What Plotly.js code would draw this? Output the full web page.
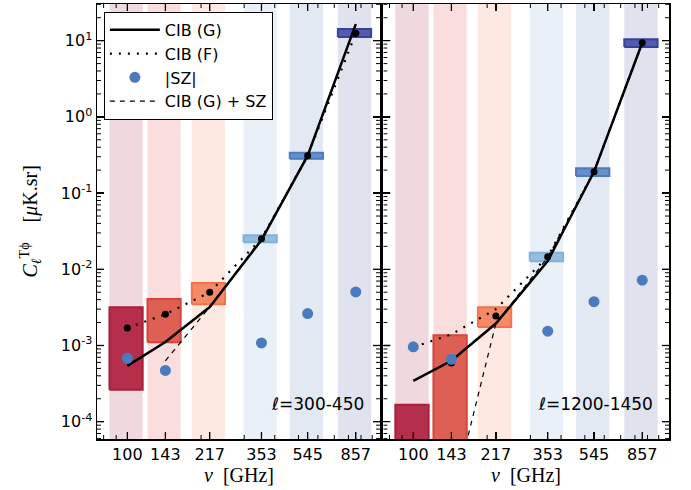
<!DOCTYPE html>
<html><head><meta charset="utf-8">
<script src="https://cdn.plot.ly/plotly-3.0.1.min.js"></script>
<style>html,body{margin:0;padding:0;background:#fff}</style>
</head><body><div id="chart" style="width:691px;height:490px"></div>
<script>
// ---- data ----
const freqs = [100, 143, 217, 353, 545, 857];
const freqLabels = ['100', '143', '217', '353', '545', '857'];
const panelLabels = ['300-450', '1200-1450'];

// panel 1: l = 300-450
const cibG_L   = [5.4e-4, 1.11e-3, 3.2e-3, 0.0242, 0.31, 16.5];
const cibF_L   = [1.7e-3, 2.57e-3, 5.0e-3, 0.0252, 0.31, 12.5];
const cibFpt_L = [1.7e-3, 2.57e-3, 5.0e-3, 0.0252, 0.31, 12.5];
const sz_L     = [6.8e-4, 4.7e-4, null, 1.08e-3, 2.62e-3, 5.05e-3];
const cibGsz_L = [null, 6.3e-4, 3.2e-3, 0.0253, 0.31, 16.5];
const boxLo_L  = [2.62e-4, 1.10e-3, 3.47e-3, 0.0226, 0.282, 11.2];
const boxHi_L  = [3.18e-3, 4.08e-3, 6.6e-3, 0.0279, 0.338, 14.2];

// panel 2: l = 1200-1450
const cibG_R   = [3.44e-4, 6.3e-4, 1.94e-3, 0.0128, 0.19, 9.4];
const cibF_R   = [9.5e-4, 1.40e-3, 3.0e-3, 0.0146, 0.19, 9.4];
const cibFpt_R = [9.5e-4, 5.9e-4, 2.44e-3, 0.0146, 0.19, 9.4];
const sz_R     = [9.6e-4, 6.6e-4, null, 1.54e-3, 3.76e-3, 7.2e-3];
const cibGsz_R = [null, 8.5e-6, 1.94e-3, 0.0143, 0.19, 9.4];
const boxLo_R  = [2e-5, 2e-5, 1.75e-3, 0.0127, 0.167, 8.26];
const boxHi_R  = [1.67e-4, 1.36e-3, 3.18e-3, 0.0165, 0.211, 10.4];

// ---- styles ----
const bandColors = ['#f0d9de', '#fadedd', '#fde9e2', '#e9f0f8', '#e3e9f3', '#e0e2ee'];
const boxFill = ['#b0203f', '#dc5548', '#f4845c', '#8bbbe0', '#5a8ac8', '#4650aa'];
const boxEdge = ['#a50f2d', '#d6372e', '#f06a42', '#79acd6', '#3f72b8', '#2a3593'];
const bandHalf = 0.155;
const szColor = '#4a7bbf';

const yTickVals = [1e-4, 1e-3, 1e-2, 1e-1, 1, 10];
const yTickText = ['10<sup>-4</sup>', '10<sup>-3</sup>', '10<sup>-2</sup>', '10<sup>-1</sup>', '10<sup>0</sup>', '10<sup>1</sup>'];
const yMinorVals = [];
for (let e = -5; e <= 1; e++) for (let m = 2; m <= 9; m++) yMinorVals.push(m * Math.pow(10, e));
const xMinorVals = [70, 80, 90, 200, 300, 400, 500, 600, 700, 800, 900, 1000];

const W = 691, H = 490, M = {l: 97, r: 22, t: 4, b: 51};
const plotW = W - M.l - M.r, plotH = H - M.t - M.b;
const yRange = [-4.227, 1.481];
const xRanges = [[1.876, 3.032], [1.878, 3.042]];
const doms = [[0, 0.4948], [0.5006, 1]];

const traces = [];
function panel(idx, cibG, cibF, cibFpt, sz, cibGsz, lo, hi) {
  const xa = idx === 0 ? 'x' : 'x2';
  const ya = idx === 0 ? 'y' : 'y2';
  const sl = idx === 0;
  freqs.forEach((f, i) => {
    const a = f * (1 - bandHalf), b = f * (1 + bandHalf);
    traces.push({x: [a, b, b, a, a], y: [1e-6, 1e-6, 1e3, 1e3, 1e-6], xaxis: xa, yaxis: ya,
      mode: 'lines', fill: 'toself', fillcolor: bandColors[i], line: {width: 0},
      hoverinfo: 'skip', showlegend: false});
  });
  freqs.forEach((f, i) => {
    const a = f * (1 - bandHalf), b = f * (1 + bandHalf);
    traces.push({x: [a, b, b, a, a], y: [lo[i], lo[i], hi[i], hi[i], lo[i]], xaxis: xa, yaxis: ya,
      mode: 'lines', fill: 'toself', fillcolor: boxFill[i], opacity: 0.92,
      line: {width: 2, color: boxEdge[i]}, hoverinfo: 'skip', showlegend: false});
  });
  traces.push({x: freqs, y: cibGsz, xaxis: xa, yaxis: ya, mode: 'lines', name: 'CIB (G) + SZ',
    line: {color: 'black', width: 1.2, dash: '5px,5px'}, showlegend: false, legendrank: 4});
  traces.push({x: freqs, y: cibF, xaxis: xa, yaxis: ya, mode: 'lines', name: 'CIB (F)',
    line: {color: 'black', width: 2.2, dash: '2px,7px'}, showlegend: sl, legendrank: 2});
  traces.push({x: freqs, y: cibFpt, xaxis: xa, yaxis: ya, mode: 'markers', name: 'CIB (F) pts',
    marker: {color: 'black', size: 7}, showlegend: false});
  traces.push({x: freqs, y: cibG, xaxis: xa, yaxis: ya, mode: 'lines', name: 'CIB (G)',
    line: {color: 'black', width: 2.5}, showlegend: sl, legendrank: 1});
  traces.push({x: freqs, y: sz, xaxis: xa, yaxis: ya, mode: 'markers', name: '|SZ|',
    marker: {color: szColor, size: 11}, showlegend: sl, legendrank: 3});
  if (sl) {
    traces.push({x: [null], y: [null], xaxis: xa, yaxis: ya, mode: 'lines', name: 'CIB (G) + SZ',
      line: {color: 'black', width: 1.2, dash: '5px,5px'}, showlegend: true, legendrank: 4});
  }
  // inward tick marks (axis decoration), derived from the axis ranges
  const xr = xRanges[idx];
  const pxX = (doms[idx][1] - doms[idx][0]) * plotW / (xr[1] - xr[0]);
  const pxY = plotH / (yRange[1] - yRange[0]);
  function tickTrace(xVals, yVals, len, width) {
    const tx = [], ty = [];
    yVals.forEach(v => {
      tx.push(Math.pow(10, xr[0]), Math.pow(10, xr[0] + len / pxX), null,
              Math.pow(10, xr[1]), Math.pow(10, xr[1] - len / pxX), null);
      ty.push(v, v, null, v, v, null);
    });
    xVals.forEach(v => {
      tx.push(v, v, null, v, v, null);
      ty.push(Math.pow(10, yRange[0]), Math.pow(10, yRange[0] + len / pxY), null,
              Math.pow(10, yRange[1]), Math.pow(10, yRange[1] - len / pxY), null);
    });
    traces.push({x: tx, y: ty, xaxis: xa, yaxis: ya, mode: 'lines', connectgaps: false,
      line: {color: 'black', width: width}, hoverinfo: 'skip', showlegend: false});
  }
  tickTrace(freqs, yTickVals, 7, 1.3);
  tickTrace(xMinorVals, yMinorVals, 4, 1);
}
panel(0, cibG_L, cibF_L, cibFpt_L, sz_L, cibGsz_L, boxLo_L, boxHi_L);
panel(1, cibG_R, cibF_R, cibFpt_R, sz_R, cibGsz_R, boxLo_R, boxHi_R);

const sansFont = 'DejaVu Sans, sans-serif';
const serifFont = 'Liberation Serif, serif';

function xAxis(domain, range, anchor) {
  return {type: 'log', domain: domain, range: range, anchor: anchor, tickmode: 'array', tickvals: freqs, ticktext: freqLabels,
    ticks: 'inside', ticklen: 7, tickwidth: 1.3, tickcolor: 'black', mirror: 'ticks',
    showline: true, linecolor: 'black', linewidth: 1.5, showgrid: false, zeroline: false,
    tickfont: {family: sansFont, size: 16, color: 'black'}};
}
function yAxis(showLabels, anchor) {
  return {type: 'log', range: yRange, anchor: anchor, tickmode: 'array', tickvals: yTickVals, ticktext: yTickText,
    showticklabels: showLabels,
    ticks: 'inside', ticklen: 7, tickwidth: 1.3, tickcolor: 'black', mirror: 'ticks',
    showline: true, linecolor: 'black', linewidth: 1.5, showgrid: false, zeroline: false,
    tickfont: {family: sansFont, size: 16, color: 'black'}};
}

const layout = {
  width: W, height: H,
  margin: M,
  paper_bgcolor: 'white', plot_bgcolor: 'white',
  showlegend: true,
  legend: {x: 0.012, y: 0.982, xanchor: 'left', yanchor: 'top', bgcolor: 'white',
    bordercolor: 'black', borderwidth: 1, font: {family: sansFont, size: 16, color: 'black'},
    traceorder: 'normal', tracegroupgap: 0, itemwidth: 50},
  xaxis: xAxis(doms[0], xRanges[0], 'y'),
  xaxis2: xAxis(doms[1], xRanges[1], 'y2'),
  yaxis: yAxis(true, 'x'),
  yaxis2: yAxis(false, 'x2'),
  annotations: panelLabels.map((t, i) => ({
    text: '<i>ℓ</i>=' + t, xref: i === 0 ? 'x domain' : 'x2 domain', yref: 'y domain',
    x: 0.95, y: 0.08, xanchor: 'right', yanchor: 'middle', showarrow: false,
    font: {family: sansFont, size: 17, color: 'black'}})).concat(
    [0, 1].map(i => ({
      text: '<i>ν</i>  [GHz]', xref: i === 0 ? 'x domain' : 'x2 domain', yref: 'paper',
      x: 0.5, y: -0.082, xanchor: 'center', yanchor: 'middle', showarrow: false,
      font: {family: serifFont, size: 20, color: 'black'}})),
    [{text: '<i>C</i><sub><i>ℓ</i></sub><sup>Tϕ</sup>    [<i>μ</i>K.sr]', xref: 'paper', yref: 'paper',
      x: -0.117, y: 0.5, xanchor: 'center', yanchor: 'middle', textangle: -90, showarrow: false,
      font: {family: serifFont, size: 20, color: 'black'}}])
};

Plotly.newPlot('chart', traces, layout, {displayModeBar: false, staticPlot: true});
</script></body></html>
